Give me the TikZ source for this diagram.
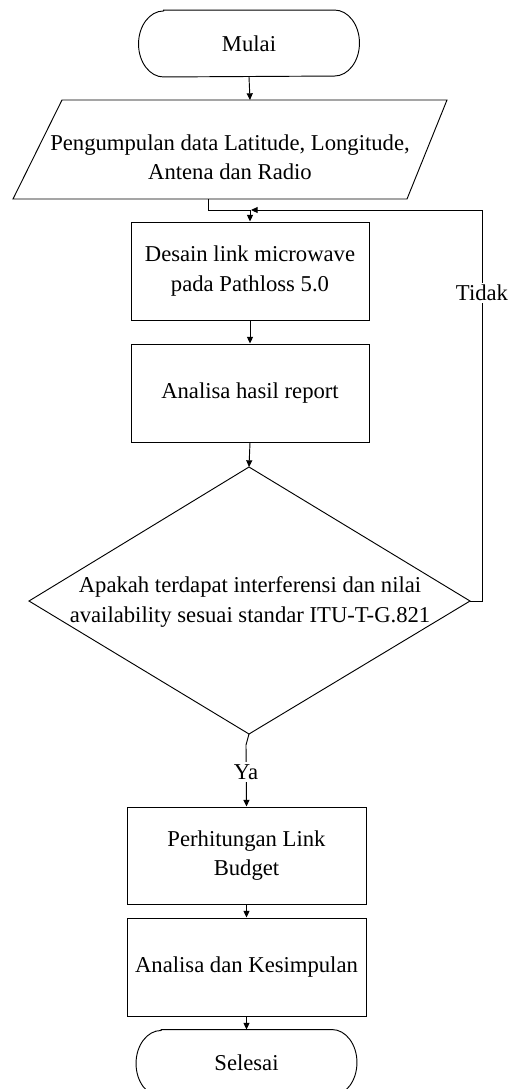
\documentclass[tikz,border=0pt]{standalone}
\usepackage{fontspec}
\setmainfont{Liberation Serif}
\usetikzlibrary{arrows.meta}
% outline of a start/end terminal: straight top and bottom, half-elliptic ends
\newcommand{\drawterminal}[1]{%
  \draw ([xshift=18.75pt]#1.north west) -- ([xshift=-18.75pt]#1.north east)
    arc[start angle=90, end angle=-90, x radius=18.75pt, y radius=24.75pt]
    -- ([xshift=18.75pt]#1.south west)
    arc[start angle=270, end angle=90, x radius=18.75pt, y radius=24.75pt] -- cycle;}
\begin{document}
\begin{tikzpicture}[x=0.75pt,y=-0.75pt,
  line width=0.7pt,
  every node/.style={font=\fontsize{17}{22}\selectfont, align=center},
  arr/.style={-{Triangle[length=5pt,width=4.5pt]}},
  stepbox/.style={draw, inner sep=0pt, minimum width=178.5pt, minimum height=73.5pt},
  terminal/.style={inner sep=0pt, minimum width=165pt, minimum height=49.5pt},
  lbl/.style={fill=white, inner sep=1.5pt}
]
\useasboundingbox (0,0) rectangle (517,1089);

% start terminal
\node[terminal] (mulai) at (249,43.5) {Mulai};
\drawterminal{mulai}

% input parallelogram
\draw (62,100) -- (447,100) -- (407,199) -- (13,199) -- cycle;
\node (input) at (230,157) {Pengumpulan data Latitude, Longitude,\\Antena dan Radio};
\coordinate (inT) at (250,100);
\coordinate (inB) at (208,199);

% process boxes
\node[stepbox] (desain) at (250,271) {Desain link microwave\\pada Pathloss 5.0};
\node[stepbox] (report) at (250,393) {Analisa hasil report};

% decision diamond
\coordinate (dT) at (249,467);
\coordinate (dR) at (470,601);
\coordinate (dB) at (249,734);
\coordinate (dL) at (29,601);
\draw (dT) -- (dR) -- (dB) -- (dL) -- cycle;
\node (cond) at (250,602) {Apakah terdapat interferensi dan nilai\\availability sesuai standar ITU-T-G.821};

\node[stepbox, minimum width=179.25pt, minimum height=72.75pt] (budget) at (246.5,855.5) {Perhitungan Link\\Budget};
\node[stepbox, minimum width=179.25pt, minimum height=73.5pt] (simpul) at (246.5,967) {Analisa dan Kesimpulan};

% end terminal
\node[terminal] (selesai) at (246.5,1063) {Selesai};
\drawterminal{selesai}

% connectors
\coordinate (j) at (250,210);
\coordinate (jr) at (251,210);
\coordinate (loopC) at (482,210);
\coordinate (yaK) at (246,745);

\draw[arr] (mulai.south) -- (inT);
\draw (inB) |- (j);
\draw[arr] (j) -- (desain.north);
\draw[arr] (desain.south) -- (report.north);
\draw[arr] (report.south) -- (dT);
\draw[arr] (dR) -| (loopC) -- (jr);
\node[lbl] (tidak) at (482,293) {Tidak};
\draw[arr] (dB) -- (yaK) -- (budget.north);
\node[lbl] (ya) at (246,772) {Ya};
\draw[arr] (budget.south) -- (simpul.north);
\draw[arr] (simpul.south) -- (selesai.north);
\end{tikzpicture}
\end{document}
